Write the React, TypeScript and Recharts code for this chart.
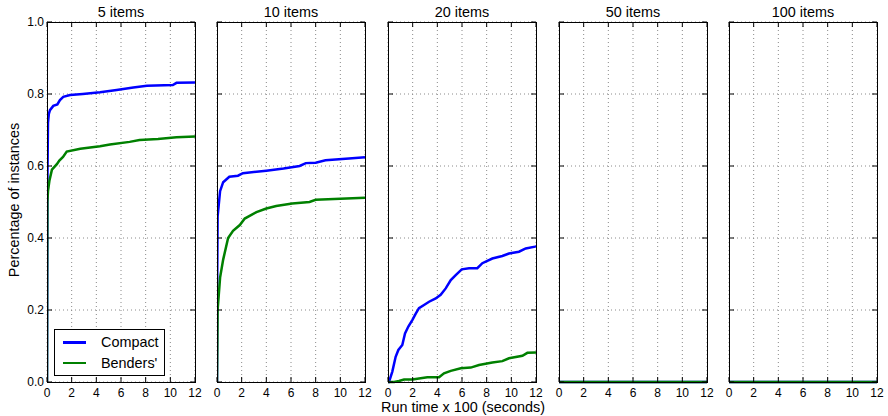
import React from "react";
import { CartesianGrid, Legend, Line, LineChart, XAxis, YAxis } from "recharts";

// cumulative share of instances solved, as [run time (x100 s), fraction] pairs
const COMPACT_5: [number, number][] = [
  [0, 0], [0.03, 0.55], [0.08, 0.72], [0.15, 0.745], [0.24, 0.755], [0.51, 0.767], [0.84, 0.771],
  [1.05, 0.783], [1.32, 0.792], [1.87, 0.797], [2.9, 0.8], [4.3, 0.805], [5.65, 0.811], [7.0, 0.818],
  [8.1, 0.823], [10.2, 0.825], [10.5, 0.831], [12, 0.832],
];
const BENDERS_5: [number, number][] = [
  [0, 0], [0.01, 0.3], [0.03, 0.5], [0.08, 0.53], [0.2, 0.56], [0.4, 0.59], [0.8, 0.605], [1.0, 0.615],
  [1.3, 0.625], [1.6, 0.64], [2.7, 0.648], [4.3, 0.655], [5.1, 0.66], [6.7, 0.667], [7.5, 0.672],
  [9, 0.675], [10.5, 0.68], [12, 0.682],
];
const COMPACT_10: [number, number][] = [
  [0, 0], [0.02, 0.3], [0.05, 0.46], [0.25, 0.53], [0.5, 0.555], [1.0, 0.57], [1.7, 0.573], [2.1, 0.58],
  [4.0, 0.587], [5.4, 0.593], [6.7, 0.6], [7.2, 0.608], [8.0, 0.609], [8.8, 0.616], [10.7, 0.621], [12, 0.624],
];
const BENDERS_10: [number, number][] = [
  [0, 0], [0.05, 0.2], [0.25, 0.29], [0.5, 0.34], [0.9, 0.4], [1.3, 0.42], [1.85, 0.436], [2.25, 0.454],
  [3.2, 0.472], [4.0, 0.482], [4.8, 0.489], [6.1, 0.496], [7.5, 0.5], [8.0, 0.506], [9.5, 0.508], [12, 0.512],
];
const COMPACT_20: [number, number][] = [
  [0, 0], [0.08, 0], [0.35, 0.029], [0.62, 0.07], [0.84, 0.089], [1.16, 0.103], [1.38, 0.135], [1.65, 0.154],
  [1.97, 0.172], [2.25, 0.19], [2.51, 0.205], [2.92, 0.214], [3.33, 0.223], [3.87, 0.232], [4.27, 0.242],
  [4.68, 0.26], [5.09, 0.283], [5.49, 0.297], [5.98, 0.313], [6.57, 0.316], [7.24, 0.316], [7.65, 0.33],
  [8.46, 0.343], [9.27, 0.35], [9.81, 0.357], [10.62, 0.362], [11.17, 0.371], [11.92, 0.376], [12, 0.377],
];
const BENDERS_20: [number, number][] = [
  [0, 0], [0.5, 0], [0.89, 0.003], [1.3, 0.007], [1.97, 0.007], [2.51, 0.01], [3.19, 0.013], [4.14, 0.013],
  [4.54, 0.024], [5.09, 0.031], [5.9, 0.038], [6.71, 0.04], [7.38, 0.047], [8.46, 0.054], [9.27, 0.058],
  [9.81, 0.066], [10.9, 0.073], [11.3, 0.081], [12, 0.082],
];
const COMPACT_50: [number, number][] = [[0, 0], [12, 0]];
const BENDERS_50: [number, number][] = [[0, 0], [12, 0]];
const COMPACT_100: [number, number][] = [[0, 0], [12, 0]];
const BENDERS_100: [number, number][] = [[0, 0], [12, 0]];

const PANEL_TITLES = ["5 items", "10 items", "20 items", "50 items", "100 items"];
const SERIES_NAMES = ["Compact", "Benders'"];
const COMPACT = [COMPACT_5, COMPACT_10, COMPACT_20, COMPACT_50, COMPACT_100];
const BENDERS = [BENDERS_5, BENDERS_10, BENDERS_20, BENDERS_50, BENDERS_100];
const X_TICKS = [0, 2, 4, 6, 8, 10, 12];
const Y_TICKS = [0, 0.2, 0.4, 0.6, 0.8, 1.0];

const FONT = "'Liberation Sans', Arial, Helvetica, sans-serif";
const BLUE = "#0000ff";
const GREEN = "#008000";

// every panel svg shares the same plot box
const PLOT_L = 47;
const PLOT_W = 148;
const PLOT_T = 22;
const PLOT_B = 382;
const CHART_W = PLOT_L + PLOT_W + 12;
const CHART_H = 416;
const PANEL_LEFTS = [47, 217, 388, 559, 729];
const TICK = 5;

const toRows = (pts: [number, number][]) => pts.map(([t, p]) => ({ t, p }));

function xTick(props: any) {
  const { x, payload } = props;
  return (
    <g>
      <line x1={x} y1={PLOT_B} x2={x} y2={PLOT_B - TICK} stroke="#000" />
      <line x1={x} y1={PLOT_T} x2={x} y2={PLOT_T + TICK} stroke="#000" />
      <text x={x} y={PLOT_B + 15} textAnchor="middle" fontSize={12} fontFamily={FONT} fill="#000">
        {payload.value}
      </text>
    </g>
  );
}

const yTick = (withLabels: boolean) => (props: any) => {
  const { y, payload } = props;
  const right = PLOT_L + PLOT_W;
  return (
    <g>
      <line x1={PLOT_L} y1={y} x2={PLOT_L + TICK} y2={y} stroke="#000" />
      <line x1={right} y1={y} x2={right - TICK} y2={y} stroke="#000" />
      {withLabels && (
        <text x={PLOT_L - 3} y={y + 4} textAnchor="end" fontSize={12} fontFamily={FONT} fill="#000">
          {payload.value.toFixed(1)}
        </text>
      )}
    </g>
  );
};

function LegendBox(props: any) {
  // keep the series order instead of the alphabetical one
  const items = [...(props.payload || [])].sort(
    (a: any, b: any) => SERIES_NAMES.indexOf(a.value) - SERIES_NAMES.indexOf(b.value)
  );
  return (
    <div
      style={{
        border: "1px solid #000",
        background: "#fff",
        width: 109,
        height: 45,
        fontFamily: FONT,
        fontSize: 14.4,
        position: "relative",
      }}
    >
      {items.map((it: any, i: number) => (
        <div key={it.value} style={{ position: "absolute", left: 0, top: 3 + i * 20.5, height: 18, width: 109 }}>
          <div style={{ position: "absolute", left: 8, top: 8, width: 23, height: 2.5, background: it.color }} />
          <span style={{ position: "absolute", left: 46, top: 0, lineHeight: "18px", whiteSpace: "nowrap" }}>
            {it.value}
          </span>
        </div>
      ))}
    </div>
  );
}

function Panel({ index }: { index: number }) {
  const first = index === 0;
  return (
    <div style={{ position: "absolute", left: PANEL_LEFTS[index] - PLOT_L, top: 0 }}>
      <LineChart width={CHART_W} height={CHART_H} margin={{ top: PLOT_T, right: 12, bottom: 0, left: 0 }}>
        <CartesianGrid stroke="#8a8a8a" strokeDasharray="1 3" />
        <XAxis
          type="number"
          dataKey="t"
          domain={[0, 12]}
          ticks={X_TICKS}
          height={CHART_H - PLOT_B}
          axisLine={false}
          tickLine={false}
          tick={xTick}
          allowDataOverflow
        />
        <YAxis
          type="number"
          domain={[0, 1]}
          ticks={Y_TICKS}
          width={PLOT_L}
          axisLine={false}
          tickLine={false}
          tick={yTick(first)}
        />
        <Line
          data={toRows(COMPACT[index])}
          dataKey="p"
          name={SERIES_NAMES[0]}
          type="linear"
          stroke={BLUE}
          strokeWidth={2.5}
          dot={false}
          isAnimationActive={false}
        />
        <Line
          data={toRows(BENDERS[index])}
          dataKey="p"
          name={SERIES_NAMES[1]}
          type="linear"
          stroke={GREEN}
          strokeWidth={2.5}
          dot={false}
          isAnimationActive={false}
        />
        {first && (
          <Legend
            layout="horizontal"
            verticalAlign="middle"
            align="center"
            content={<LegendBox />}
            wrapperStyle={{ left: 54, top: 329, width: 111, height: 47 }}
          />
        )}
      </LineChart>
    </div>
  );
}

export default function App() {
  return (
    <div style={{ position: "absolute", left: 0, top: 0, width: 888, height: 416, background: "#fff", overflow: "hidden" }}>
      {PANEL_TITLES.map((_, i) => (
        <Panel key={i} index={i} />
      ))}
      <svg width={888} height={416} style={{ position: "absolute", left: 0, top: 0, pointerEvents: "none" }}>
        {PANEL_LEFTS.map((left, i) => (
          <g key={i}>
            <rect x={left + 0.5} y={PLOT_T + 0.5} width={PLOT_W} height={PLOT_B - PLOT_T} fill="none" stroke="#000" />
            <text x={left + PLOT_W / 2} y={17} textAnchor="middle" fontSize={14.4} fontFamily={FONT} fill="#000">
              {PANEL_TITLES[i]}
            </text>
          </g>
        ))}
        <text
          x={19}
          y={200}
          transform="rotate(-90 19 200)"
          textAnchor="middle"
          fontSize={14.4}
          fontFamily={FONT}
          fill="#000"
        >
          Percentage of instances
        </text>
        <text x={463} y={412} textAnchor="middle" fontSize={14.4} fontFamily={FONT} fill="#000">
          Run time x 100 (seconds)
        </text>
      </svg>
    </div>
  );
}
